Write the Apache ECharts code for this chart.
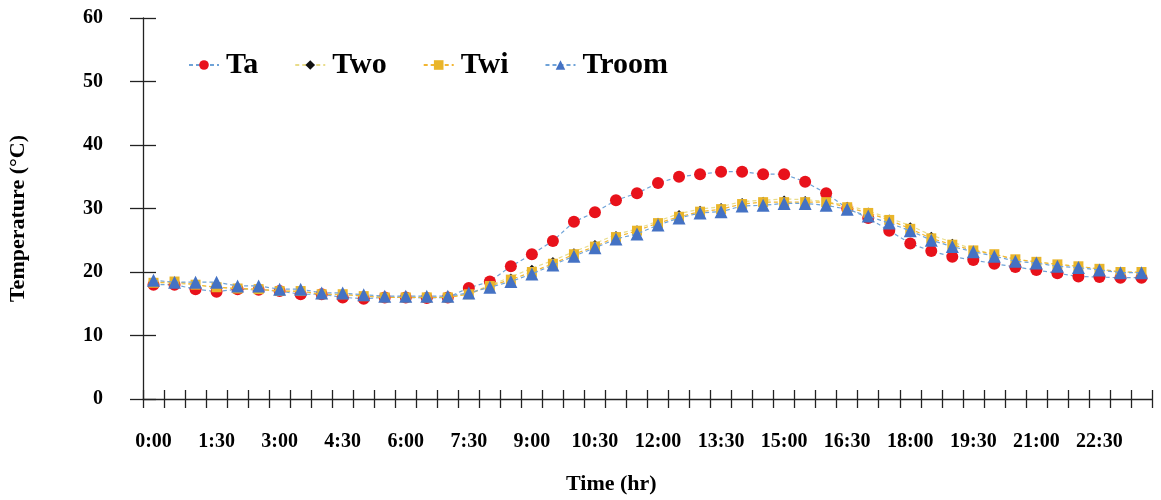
<!DOCTYPE html>
<html>
<head>
<meta charset="utf-8">
<script src="https://cdn.jsdelivr.net/npm/echarts@6/dist/echarts.min.js"></script>
<style>
html,body{margin:0;padding:0;background:#fff;}
#c{width:1161px;height:500px;}
</style>
</head>
<body>
<div id="c"></div>
<script>
const times = [];
for (let h = 0; h < 24; h++) { times.push(h + ':00'); times.push(h + ':30'); }

const Ta = [18.0, 18.0, 17.3, 16.9, 17.3, 17.2, 17.0, 16.5, 16.5, 16.0, 15.8, 16.0, 16.0, 15.9, 16.0,
  17.5, 18.5, 20.9, 22.8, 24.9, 27.9, 29.4, 31.3, 32.4, 34.0, 35.0, 35.4, 35.8, 35.8, 35.4, 35.4, 34.2,
  32.4, 30.0, 28.5, 26.5, 24.5, 23.3, 22.4, 21.9, 21.3, 20.8, 20.3, 19.8, 19.3, 19.2, 19.1, 19.1];
const Two = [18.3, 18.3, 17.9, 17.6, 17.4, 17.2, 17.0, 16.9, 16.5, 16.4, 16.2, 16.0, 16.0, 16.0, 16.0,
  16.6, 17.9, 19.2, 20.6, 21.8, 23.2, 24.5, 25.9, 26.8, 28.0, 29.2, 29.9, 30.3, 31.1, 31.3, 31.5, 31.4,
  31.1, 30.5, 29.6, 28.5, 27.3, 25.8, 24.7, 23.6, 22.8, 22.0, 21.6, 21.2, 20.9, 20.4, 20.0, 19.9];
const Twi = [18.3, 18.5, 18.0, 17.6, 17.4, 17.3, 17.0, 17.0, 16.5, 16.5, 16.2, 16.0, 16.0, 16.0, 16.0,
  16.5, 17.8, 18.8, 20.0, 21.3, 22.8, 24.0, 25.5, 26.5, 27.7, 28.7, 29.5, 29.9, 30.7, 31.0, 31.0, 31.0,
  31.0, 30.2, 29.3, 28.2, 26.8, 25.3, 24.3, 23.4, 22.8, 22.0, 21.6, 21.2, 20.9, 20.5, 20.0, 20.0];
const Troom = [18.7, 18.4, 18.4, 18.4, 17.8, 17.8, 17.3, 17.3, 16.7, 16.7, 16.4, 16.2, 16.2, 16.2, 16.2,
  16.7, 17.6, 18.5, 19.7, 21.1, 22.5, 23.8, 25.2, 26.0, 27.4, 28.5, 29.3, 29.5, 30.4, 30.5, 30.8, 30.8,
  30.5, 29.9, 28.8, 27.7, 26.5, 25.0, 24.0, 23.2, 22.5, 21.7, 21.4, 20.9, 20.7, 20.3, 19.9, 19.9];

const yTicks = [0, 10, 20, 30, 40, 50, 60];
const seriesNames = ['Ta', 'Two', 'Twi', 'Troom'];

const FONT = '"Liberation Serif", "Times New Roman", serif';
const axisColor = '#222';

function mkSeries(name, data, lineColor, symbol, size, fill, z) {
  return {
    name: name, type: 'line', data: data, xAxisIndex: 0, yAxisIndex: 0,
    symbol: symbol, symbolSize: size, z: z,
    lineStyle: { color: lineColor, width: 1.2, type: [4, 3] },
    itemStyle: { color: fill, borderColor: fill, borderWidth: 0 },
    emphasis: { disabled: true }, animation: false
  };
}

const chart = echarts.init(document.getElementById('c'));
chart.setOption({
  animation: false,
  backgroundColor: '#fff',
  grid: { left: 143, right: 9, top: 18, bottom: 101, containLabel: false },
  legend: {
    data: seriesNames, left: 183, top: 45, itemWidth: 30, itemHeight: 12, itemGap: 36,
    textStyle: { fontFamily: FONT, fontWeight: 'bold', fontSize: 30, color: '#000', padding: [0, 0, 0, 2] }
  },
  xAxis: [{
    type: 'category', data: times, boundaryGap: true, position: 'bottom',
    axisLine: { show: true, lineStyle: { color: axisColor, width: 1.3 } },
    axisTick: { show: true, interval: 0, length: 9, inside: false, lineStyle: { color: axisColor, width: 1.3 } },
    axisLabel: { interval: 2, margin: 33, fontFamily: FONT, fontWeight: 'bold', fontSize: 20, color: '#000' },
    splitLine: { show: false }
  }, {
    type: 'category', data: times, boundaryGap: true, position: 'bottom', gridIndex: 0,
    axisLine: { show: false },
    axisTick: { show: true, interval: 0, length: 9, inside: true, lineStyle: { color: axisColor, width: 1.3 } },
    axisLabel: { show: false }, splitLine: { show: false }
  }],
  yAxis: [{
    type: 'value', min: yTicks[0], max: yTicks[yTicks.length - 1], interval: 10, position: 'left',
    axisLine: { show: true, lineStyle: { color: axisColor, width: 1.3 } },
    axisTick: { show: true, length: 13, inside: false, lineStyle: { color: axisColor, width: 1.3 } },
    axisLabel: { margin: 40, fontFamily: FONT, fontWeight: 'bold', fontSize: 20, color: '#000' },
    splitLine: { show: false }
  }, {
    type: 'value', min: yTicks[0], max: yTicks[yTicks.length - 1], interval: 10, position: 'left',
    axisLine: { show: false },
    axisTick: { show: true, length: 13, inside: true, lineStyle: { color: axisColor, width: 1.3 } },
    axisLabel: { show: false }, splitLine: { show: false }
  }],
  graphic: [{
    type: 'text', left: 7, top: 135, rotation: Math.PI / 2, z: 10,
    style: { text: 'Temperature (°C)', fontFamily: FONT, fontWeight: 'bold', fontSize: 22, fill: '#000' }
  }, {
    type: 'text', left: 566, top: 473, z: 10,
    style: { text: 'Time (hr)', fontFamily: FONT, fontWeight: 'bold', fontSize: 22, fill: '#000' }
  }],
  series: [
    mkSeries('Ta', Ta, '#6fa3d8', 'circle', 12, '#e8121b', 2),
    mkSeries('Two', Two, '#e9dc8a', 'diamond', 7, '#111111', 3),
    mkSeries('Twi', Twi, '#f2b632', 'rect', 10, '#e9b52a', 4),
    mkSeries('Troom', Troom, '#6fa3d8', 'triangle', 13, '#4472c4', 5)
  ]
});
</script>
</body>
</html>
